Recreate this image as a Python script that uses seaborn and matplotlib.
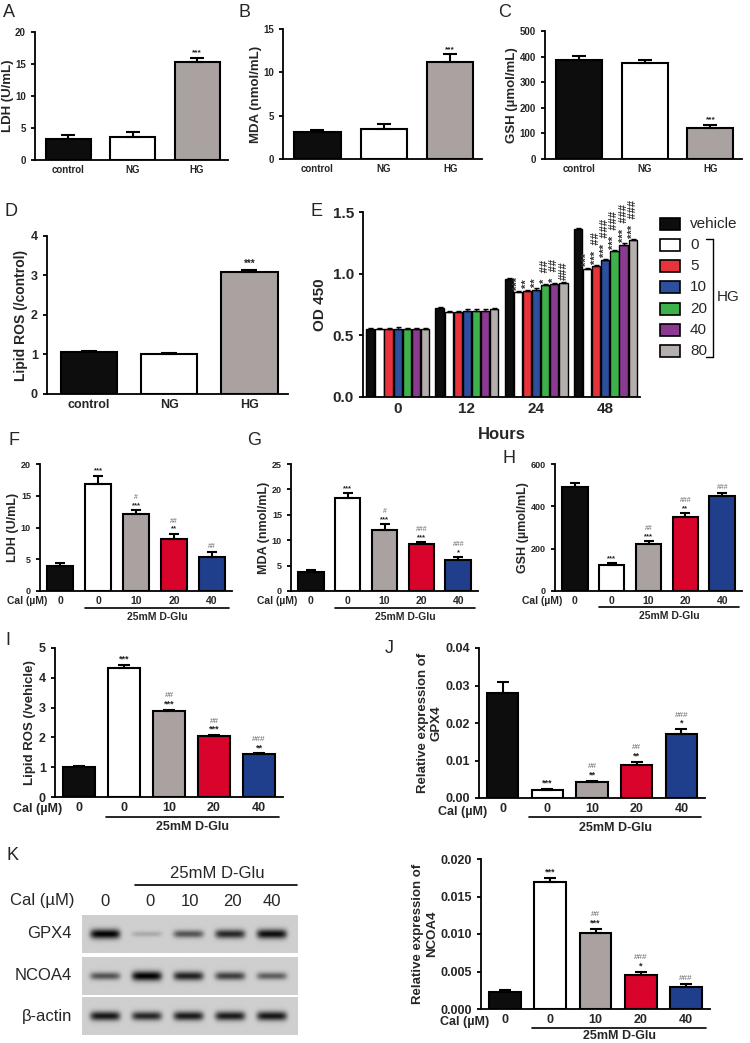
import numpy as np
import pandas as pd
import seaborn as sns
import matplotlib.pyplot as plt
from matplotlib.patches import Rectangle
from matplotlib.lines import Line2D
from matplotlib.transforms import blended_transform_factory

sns.set_style("ticks")
plt.rcParams['font.family'] = ['Liberation Sans', 'DejaVu Sans']

W, H = 750, 1043

# ---------------- data ----------------
abc_groups = ["control", "NG", "HG"]
ldh_hg = [3.3, 3.6, 15.3]
ldh_hg_err = [0.6, 0.7, 0.7]
mda_hg = [3.1, 3.5, 11.2]
mda_hg_err = [0.3, 0.5, 0.9]
gsh_hg = [385, 375, 123]
gsh_hg_err = [17, 10, 10]
ros_hg = [1.07, 1.02, 3.10]
ros_hg_err = [0.01, 0.01, 0.03]
abc_stars = ["", "", "***"]

e_hours = ["0", "12", "24", "48"]
e_groups = ["vehicle", "0", "5", "10", "20", "40", "80"]
od_0h = [0.55, 0.55, 0.55, 0.555, 0.55, 0.55, 0.55]
od_12h = [0.72, 0.69, 0.69, 0.70, 0.70, 0.70, 0.715]
od_24h = [0.955, 0.85, 0.86, 0.87, 0.905, 0.915, 0.925]
od_48h = [1.36, 1.04, 1.06, 1.11, 1.18, 1.235, 1.27]
od_err = [0.01, 0.01, 0.01, 0.01, 0.01, 0.01, 0.01]
stars_24h = ["", "***", "**", "**", "*", "*", ""]
hash_24h = ["", "", "", "", "##", "##", "###"]
stars_48h = ["", "***", "***", "***", "***", "***", "***"]
hash_48h = ["", "", "##", "###", "###", "###", "###"]

cal_labels = ["0", "0", "10", "20", "40"]
ldh_cal = [3.9, 16.9, 12.2, 8.2, 5.3]
ldh_cal_err = [0.5, 1.2, 0.5, 0.8, 0.9]
ldh_stars = ["", "***", "***", "**", ""]
ldh_hash = ["", "", "#", "##", "##"]
mda_cal = [3.8, 18.3, 12.1, 9.2, 6.1]
mda_cal_err = [0.3, 0.9, 1.0, 0.4, 0.5]
mda_stars = ["", "***", "***", "***", "*"]
mda_hash = ["", "", "#", "###", "###"]
gsh_cal = [493, 123, 222, 350, 450]
gsh_cal_err = [15, 8, 12, 17, 15]
gsh_stars = ["", "***", "***", "**", ""]
gsh_hash = ["", "", "##", "###", "###"]
ros_cal = [1.02, 4.32, 2.90, 2.06, 1.43]
ros_cal_err = [0.01, 0.12, 0.03, 0.02, 0.03]
ros_stars = ["", "***", "***", "***", "**"]
ros_hash = ["", "", "##", "##", "###"]
gpx4_rel = [0.028, 0.0022, 0.0043, 0.0087, 0.0171]
gpx4_rel_err = [0.003, 0.0003, 0.0003, 0.001, 0.0012]
gpx4_stars = ["", "***", "**", "**", "*"]
gpx4_hash = ["", "", "##", "##", "###"]
ncoa4_rel = [0.0023, 0.0169, 0.0102, 0.0046, 0.0030]
ncoa4_rel_err = [0.0003, 0.0006, 0.0005, 0.0004, 0.0004]
ncoa4_stars = ["", "***", "***", "*", ""]
ncoa4_hash = ["", "", "##", "###", "###"]

blot_rows = ["GPX4", "NCOA4", "β-actin"]
gpx4_band = [1.0, 0.18, 0.6, 0.82, 0.95]
ncoa4_band = [0.6, 1.0, 0.85, 0.7, 0.55]
actin_band = [0.9, 0.82, 0.88, 0.88, 0.9]

ABC_COLORS = ["#0d0d0d", "#ffffff", "#a9a2a0"]
CAL_COLORS = ["#0d0d0d", "#ffffff", "#a9a2a0", "#d9042b", "#1f3f8c"]
E_COLORS = ["#0d0d0d", "#ffffff", "#e8323c", "#2c4f9e", "#3db14a", "#8b3a92", "#b4aeac"]

fig = plt.figure(figsize=(7.5, 10.43), dpi=100)


def px_axes(rect):
    l, t, r, b = rect
    return fig.add_axes([l / W, 1 - b / H, (r - l) / W, (b - t) / H])


def ftext(x, y, s, **kw):
    fig.text(x / W, 1 - y / H, s, **kw)


def style_axes(ax, lw=1.3):
    sns.despine(ax=ax)
    for s in ["left", "bottom"]:
        ax.spines[s].set_linewidth(lw)
        ax.spines[s].set_color("black")
    ax.tick_params(axis="y", length=3, width=lw, color="black")
    ax.tick_params(axis="x", length=0)


def bar_panel(rect, labels, vals, errs, colors, ymax, yticks, ylabel, stars, hashes,
              tick_fs, ytick_fs, label_fs, mark_fs, cap, xlim, fmt="{:g}", lpad=2):
    ax = px_axes(rect)
    keys = [f"k{i}" for i in range(len(vals))]
    df = pd.DataFrame({"key": keys, "val": vals})
    sns.barplot(data=df, x="key", y="val", hue="key", palette=colors, saturation=1,
                edgecolor="black", linewidth=1.5, width=0.7, legend=False,
                errorbar=None, ax=ax)
    n = len(vals)
    ax.errorbar(range(n), vals, yerr=[np.zeros(n), errs], fmt="none", ecolor="black",
                elinewidth=1.5, capsize=cap, capthick=1.5, zorder=5)
    for i in range(n):
        top = vals[i] + errs[i]
        off = 1
        if stars[i]:
            ax.annotate(stars[i], (i, top), xytext=(0, off), textcoords="offset points",
                        ha="center", va="bottom", fontsize=mark_fs, fontweight="bold",
                        color="#222222")
            off += mark_fs * 1.0
        if hashes[i]:
            ax.annotate(hashes[i], (i, top), xytext=(0, off), textcoords="offset points",
                        ha="center", va="bottom", fontsize=mark_fs * 0.9, color="#666666")
    ax.set_ylim(0, ymax)
    ax.set_xlim(*xlim)
    ax.set_yticks(yticks)
    ax.set_yticklabels([fmt.format(v) for v in yticks], fontsize=ytick_fs, fontweight="bold")
    ax.set_xticks(range(n))
    ax.set_xticklabels(labels, fontsize=tick_fs, fontweight="bold")
    ax.set_xlabel("")
    ax.set_ylabel(ylabel, fontsize=label_fs, fontweight="bold", labelpad=lpad)
    style_axes(ax)
    return ax


def dglu(ax, rect, x0, x1, y_line, y_text, fs):
    l, t, r, b = rect
    tr = blended_transform_factory(ax.transData, ax.transAxes)
    yl = (b - y_line) / (b - t)
    yt = (b - y_text) / (b - t)
    ax.plot([x0, x1], [yl, yl], color="black", lw=1.2, transform=tr, clip_on=False)
    ax.text((x0 + x1) / 2, yt, "25mM D-Glu", transform=tr, ha="center", va="center",
            fontsize=fs, fontweight="bold")


# ---------------- A, B, C, D ----------------
xl3 = (-0.52, 2.48)
bar_panel((35, 32, 228, 160), abc_groups, ldh_hg, ldh_hg_err, ABC_COLORS, 20, [0, 5, 10, 15, 20],
          "LDH (U/mL)", abc_stars, ["", "", ""], 7, 7, 9.5, 6, 5, xl3, lpad=1)
bar_panel((283, 29, 482, 159), abc_groups, mda_hg, mda_hg_err, ABC_COLORS, 15, [0, 5, 10, 15],
          "MDA (nmol/mL)", abc_stars, ["", "", ""], 7, 7, 9.5, 6, 5, xl3, lpad=1)
bar_panel((545, 31, 742, 159), abc_groups, gsh_hg, gsh_hg_err, ABC_COLORS, 500,
          [0, 100, 200, 300, 400, 500], "GSH (µmol/mL)", abc_stars, ["", "", ""], 7, 7, 9.5, 6, 5,
          xl3, lpad=1)
bar_panel((47, 236, 288, 394), abc_groups, ros_hg, ros_hg_err, ABC_COLORS, 4, [0, 1, 2, 3, 4],
          "Lipid ROS (/control)", abc_stars, ["", "", ""], 9, 9, 10, 7, 6, xl3)

# ---------------- E ----------------
e_rect = (363, 212, 640, 397)
axE = px_axes(e_rect)
e_rows = []
for h, vals in zip(e_hours, [od_0h, od_12h, od_24h, od_48h]):
    for g, v in zip(e_groups, vals):
        e_rows.append({"hour": h, "grp": g, "od": v})
dfE = pd.DataFrame(e_rows)
sns.barplot(data=dfE, x="hour", y="od", hue="grp", order=e_hours, hue_order=e_groups,
            palette=E_COLORS, saturation=1, width=0.92, gap=0.1, edgecolor="black",
            linewidth=1.0, errorbar=None, legend=False, ax=axE)
e_marks = {"24": (stars_24h, hash_24h), "48": (stars_48h, hash_48h)}
bar_conts = list(axE.containers)
for gi, cont in enumerate(bar_conts):
    for hi, bar in enumerate(cont.patches):
        xc = bar.get_x() + bar.get_width() / 2
        top = bar.get_height() + od_err[gi]
        axE.errorbar([xc], [bar.get_height()], yerr=[[0], [od_err[gi]]], fmt="none",
                     ecolor="black", elinewidth=1.0, capsize=1.8, capthick=1.0, zorder=5)
        hr = e_hours[hi]
        if hr in e_marks:
            st, hs = e_marks[hr][0][gi], e_marks[hr][1][gi]
            txt = (st + "  " + hs).strip()
            if txt:
                axE.annotate(txt, (xc, top), xytext=(0, 1), textcoords="offset points",
                             rotation=90, ha="center", va="bottom", fontsize=8,
                             fontweight="bold", color="#333333", annotation_clip=False)
axE.set_ylim(0, 1.5)
axE.set_xlim(-0.5, 3.5)
axE.set_yticks([0, 0.5, 1.0, 1.5])
axE.set_yticklabels(["0.0", "0.5", "1.0", "1.5"], fontsize=11, fontweight="bold")
axE.set_xticks(range(4))
axE.set_xticklabels(e_hours, fontsize=11, fontweight="bold")
axE.set_xlabel("Hours", fontsize=12, fontweight="bold", labelpad=8)
axE.set_ylabel("OD 450", fontsize=11, fontweight="bold", labelpad=4)
style_axes(axE)

# legend for E
leg_y = [224, 245, 266, 287, 309, 330, 351]
for col, lab, y in zip(E_COLORS, e_groups, leg_y):
    fig.add_artist(Rectangle((660 / W, 1 - (y + 6) / H), 20 / W, 12 / H,
                             transform=fig.transFigure, facecolor=col, edgecolor="black", lw=1.2))
    ftext(690, y, lab, fontsize=11, va="center", ha="left")
bx = 713
for seg in [((706, 239), (bx, 239)), ((bx, 239), (bx, 357)), ((bx, 357), (706, 357))]:
    fig.add_artist(Line2D([seg[0][0] / W, seg[1][0] / W], [1 - seg[0][1] / H, 1 - seg[1][1] / H],
                          transform=fig.transFigure, color="black", lw=1.0))
ftext(717, 297, "HG", fontsize=11, va="center", ha="left")

# ---------------- F, G, H ----------------
xl5 = (-0.53, 4.53)
rF = (40, 464, 232, 591)
axF = bar_panel(rF, cal_labels, ldh_cal, ldh_cal_err, CAL_COLORS, 20, [0, 5, 10, 15, 20],
                "LDH (U/mL)", ldh_stars, ldh_hash, 7.5, 6.5, 9, 5.5, 3.5, xl5, lpad=1)
dglu(axF, rF, 0.65, 4.45, 608, 617, 7.5)
ftext(47, 601, "Cal (µM)", fontsize=7.5, fontweight="bold", ha="right", va="center")

rG = (291, 464, 478, 591)
axG = bar_panel(rG, cal_labels, mda_cal, mda_cal_err, CAL_COLORS, 25, [0, 5, 10, 15, 20, 25],
                "MDA (nmol/mL)", mda_stars, mda_hash, 7.5, 6.5, 9, 5.5, 3.5, xl5, lpad=1)
dglu(axG, rG, 0.65, 4.45, 608, 617, 7.5)
ftext(297, 601, "Cal (µM)", fontsize=7.5, fontweight="bold", ha="right", va="center")

rH = (555, 464, 742, 591)
axH = bar_panel(rH, cal_labels, gsh_cal, gsh_cal_err, CAL_COLORS, 600, [0, 200, 400, 600],
                "GSH (µmol/mL)", gsh_stars, gsh_hash, 7.5, 6.5, 9, 5.5, 3.5, xl5, lpad=1)
dglu(axH, rH, 0.65, 4.45, 607, 616, 7.5)
ftext(562, 601, "Cal (µM)", fontsize=7.5, fontweight="bold", ha="right", va="center")

# ---------------- I, J, K ----------------
rI = (55, 648, 283, 797)
axI = bar_panel(rI, cal_labels, ros_cal, ros_cal_err, CAL_COLORS, 5, [0, 1, 2, 3, 4, 5],
                "Lipid ROS (/vehicle)", ros_stars, ros_hash, 9, 9, 9.5, 6.5, 4.5, xl5)
dglu(axI, rI, 0.6, 4.45, 817, 827, 9)
ftext(62, 809, "Cal (µM)", fontsize=9, fontweight="bold", ha="right", va="center")

rJ = (479, 648, 705, 798)
axJ = bar_panel(rJ, cal_labels, gpx4_rel, gpx4_rel_err, CAL_COLORS, 0.04,
                [0, 0.01, 0.02, 0.03, 0.04], "Relative expression of\nGPX4", gpx4_stars,
                gpx4_hash, 9, 9, 9.5, 6.5, 4.5, xl5, fmt="{:.2f}")
dglu(axJ, rJ, 0.6, 4.45, 817, 828, 9)
ftext(487, 812, "Cal (µM)", fontsize=9, fontweight="bold", ha="right", va="center")

rK = (481, 859, 710, 1009)
axK = bar_panel(rK, cal_labels, ncoa4_rel, ncoa4_rel_err, CAL_COLORS, 0.02,
                [0, 0.005, 0.01, 0.015, 0.02], "Relative expression of\nNCOA4", ncoa4_stars,
                ncoa4_hash, 9, 9, 9.5, 6.5, 4.5, xl5, fmt="{:.3f}")
dglu(axK, rK, 0.6, 4.45, 1028, 1036, 9)
ftext(489, 1022, "Cal (µM)", fontsize=9, fontweight="bold", ha="right", va="center")

# ---------------- K blot ----------------
blot_x0, blot_x1 = -0.55, 4.62
xs = np.linspace(blot_x0, blot_x1, 320)
ys = np.linspace(0, 1, 60)
XX, YY = np.meshgrid(xs, ys)
blot_rects = [(82, 915, 298, 953), (82, 957, 298, 995), (82, 997, 298, 1035)]
for name, bands, rect in zip(blot_rows, [gpx4_band, ncoa4_band, actin_band], blot_rects):
    axb = px_axes(rect)
    img = np.full(XX.shape, 0.81)
    for i, inten in enumerate(bands):
        thick = 0.06 + 0.07 * inten
        img -= 0.8 * inten * np.exp(-((XX - i) / 0.36) ** 6) * np.exp(-((YY - 0.5) / thick) ** 2)
    axb.imshow(img, cmap="gray", vmin=0, vmax=1, aspect="auto",
               extent=[blot_x0, blot_x1, 0, 1], origin="lower")
    axb.set_axis_off()
    ftext(72, (rect[1] + rect[3]) / 2, name, fontsize=12, ha="right", va="center")

lane_px = [105, 150, 190, 232, 272]
for lab, x in zip(cal_labels, lane_px):
    ftext(x, 901, lab, fontsize=12, ha="center", va="center")
ftext(74, 901, "Cal (µM)", fontsize=12, ha="right", va="center")
fig.add_artist(Line2D([135 / W, 297 / W], [1 - 885 / H, 1 - 885 / H],
                      transform=fig.transFigure, color="black", lw=1.2))
ftext(217, 873, "25mM D-Glu", fontsize=12, ha="center", va="center")

# ---------------- panel letters ----------------
for letter, (x, y) in {"A": (3, 4), "B": (238, 4), "C": (498, 4), "D": (4, 203),
                       "E": (310, 203), "F": (9, 432), "G": (247, 432), "H": (502, 450),
                       "I": (5, 632), "J": (385, 640), "K": (7, 847)}.items():
    ftext(x, y, letter, fontsize=13, ha="left", va="top")

fig.savefig("out.png", dpi=100)
